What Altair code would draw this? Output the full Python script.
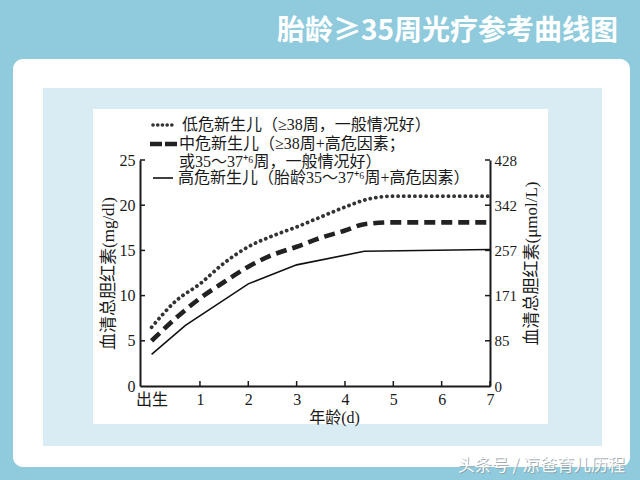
import json
import altair as alt
import pandas as pd

# ---------------- data ----------------
low_x = [0, 0.5, 1, 1.5, 2, 2.5, 3, 3.5, 4, 4.5, 5, 6, 7]
low_y = [6.5, 9.4, 11.3, 13.6, 15.4, 16.6, 17.6, 18.7, 19.8, 20.7, 21.0, 21.0, 21.0]
mid_x = [0, 0.5, 1, 1.5, 2, 2.5, 3, 3.5, 4, 4.4, 5, 6, 7]
mid_y = [5.0, 7.5, 9.7, 11.5, 13.2, 14.5, 15.4, 16.4, 17.2, 17.9, 18.1, 18.1, 18.1]
high_x = [0, 0.7, 2, 3, 4.4, 7]
high_y = [3.5, 6.7, 11.3, 13.4, 14.9, 15.1]

x_ticks = [0, 1, 2, 3, 4, 5, 6, 7]
x_tick_labels = ["出生", "1", "2", "3", "4", "5", "6", "7"]
y_ticks = [0, 5, 10, 15, 20, 25]
y_right_labels = ["0", "85", "171", "257", "342", "428"]

legend_labels = [
    "低危新生儿（≥38周，一般情况好）",
    "中危新生儿（≥38周+高危因素；",
    "或35～37⁺⁶周，一般情况好）",
    "高危新生儿（胎龄35～37⁺⁶周+高危因素）",
]
title_text = "胎龄≥35周光疗参考曲线图"
y_title_left = "血清总胆红素(mg/dl)"
y_title_right = "血清总胆红素(μmol/L)"
x_title = "年龄(d)"
watermark_text = "头条号 / 凉爸育儿历程"

# ---------------- layout ----------------
W, H = 350, 226
PL, PT = 140, 160
SERIF = "Liberation Serif, Noto Sans CJK SC"
CJK = "Noto Sans CJK SC"
BG = "#8fcbdc"
PANEL = "#d9ecf3"
INK = "#1a1a1a"

xs_ = alt.Scale(domain=[-0.24, 7], nice=False, zero=False)
ys_ = alt.Scale(domain=[0, 25], nice=False, zero=True)

x_axis = alt.Axis(
    values=x_ticks, ticks=False, tickSize=0, grid=False, zindex=1,
    labelExpr=f"{json.dumps(x_tick_labels, ensure_ascii=False)}[datum.value]",
    labelFont=SERIF, labelFontSize=16, labelColor=INK, labelPadding=5,
    labelFlush=False, labelOverlap=False,
    domainColor=INK, domainWidth=2,
    title=x_title, titleFont=SERIF, titleFontSize=16, titleFontWeight="normal",
    titleColor=INK, titlePadding=2, titleX=194,
)
y_axis_left = alt.Axis(
    values=y_ticks, ticks=False, tickSize=0, grid=False, zindex=1,
    labelFont=SERIF, labelFontSize=16, labelColor=INK, labelPadding=5,
    labelOverlap=False,
    domainColor=INK, domainWidth=2,
    title=y_title_left, titleFont=SERIF, titleFontSize=17, titleFontWeight="normal",
    titleColor=INK, titlePadding=2,
)
y_axis_right = alt.Axis(
    orient="right", values=y_ticks, ticks=False, tickSize=0, grid=False, zindex=1,
    labelExpr=f"{json.dumps(y_right_labels)}[datum.value / 5]",
    labelFont=SERIF, labelFontSize=15, labelColor=INK, labelPadding=4,
    labelOverlap=False,
    domainColor=INK, domainWidth=2,
    title=y_title_right, titleFont=SERIF, titleFontSize=17, titleFontWeight="normal",
    titleColor=INK, titleAngle=270, titleX=41, titleY=103,
    titleAlign="center", titleBaseline="middle",
)

one = pd.DataFrame({"d": [0]})


def box(x1, y1, x2, y2, color, radius=0):
    return alt.Chart(one).mark_rect(color=color, cornerRadius=radius).encode(
        x=alt.value(x1), x2=alt.value(x2), y=alt.value(y1), y2=alt.value(y2)
    )


card = box(13 - PL, 59 - PT, 630 - PL, 467 - PT, "white", 10)
panel = box(43 - PL, 88 - PT, 602 - PL, 446 - PT, PANEL)
inner_panel = box(93 - PL, 109 - PT, 548 - PL, 424 - PT, "white")

title = alt.Chart(pd.DataFrame({"t": [title_text]})).mark_text(
    align="right", baseline="middle", font=CJK, fontSize=28, fontWeight="bold", color="white"
).encode(x=alt.value(618 - PL), y=alt.value(32 - PT), text="t:N")

wm = pd.DataFrame({"t": [watermark_text]})
wm_shadow = alt.Chart(wm).mark_text(
    align="right", baseline="middle", font=CJK, fontSize=17, color="#8a9aa2", opacity=0.8
).encode(x=alt.value(626 - PL), y=alt.value(467 - PT), text="t:N")
wm_text = alt.Chart(wm).mark_text(
    align="right", baseline="middle", font=CJK, fontSize=17, color="white", opacity=0.95
).encode(x=alt.value(625 - PL), y=alt.value(466 - PT), text="t:N")


def series(xv, yv, **kw):
    df = pd.DataFrame({"x": xv, "y": yv})
    return alt.Chart(df).mark_line(**kw).encode(
        x=alt.X("x:Q", scale=xs_, axis=x_axis),
        y=alt.Y("y:Q", scale=ys_, axis=y_axis_left),
    )


low = series(low_x, low_y, color="#333333", strokeWidth=3.8, strokeDash=[0.1, 5.5],
             strokeCap="round", interpolate="monotone")
mid = series(mid_x, mid_y, color="#222222", strokeWidth=4.6, strokeDash=[11, 6],
             interpolate="monotone")
high = series(high_x, high_y, color="#111111", strokeWidth=1.6)

left_ticks = alt.Chart(pd.DataFrame({"y": y_ticks[1:]})).mark_rule(
    color=INK, strokeWidth=1.5
).encode(x=alt.value(0), x2=alt.value(5), y=alt.Y("y:Q", scale=ys_, axis=y_axis_left))

bottom_ticks = alt.Chart(pd.DataFrame({"x": x_ticks[1:]})).mark_rule(
    color=INK, strokeWidth=1.5
).encode(x=alt.X("x:Q", scale=xs_, axis=x_axis), y=alt.value(H - 5), y2=alt.value(H))

right_ticks = alt.Chart(pd.DataFrame({"y": y_ticks[1:]})).mark_rule(
    color=INK, strokeWidth=1.5
).encode(x=alt.value(W - 5), x2=alt.value(W), y=alt.Y("y:Q", scale=ys_, axis=y_axis_right))

# legend (drawn by hand, like the reference)
legend_y = [125 - PT, 144 - PT, 162 - PT, 178 - PT]
legend_tx = [42, 39, 39, 38]
legend_layers = []
for lab, ly, lx in zip(legend_labels, legend_y, legend_tx):
    legend_layers.append(
        alt.Chart(pd.DataFrame({"t": [lab]})).mark_text(
            align="left", baseline="middle", font=SERIF, fontSize=16, color=INK
        ).encode(x=alt.value(lx), y=alt.value(ly), text="t:N")
    )
sym_low = alt.Chart(one).mark_rule(color="#333333", strokeWidth=3.6, strokeDash=[0.1, 4.6],
                                   strokeCap="round").encode(
    x=alt.value(13), x2=alt.value(33), y=alt.value(legend_y[0]))
sym_mid = alt.Chart(one).mark_rule(color="#222222", strokeWidth=4.6, strokeDash=[12, 3]).encode(
    x=alt.value(10), x2=alt.value(38), y=alt.value(legend_y[1]))
sym_high = alt.Chart(one).mark_rule(color="#111111", strokeWidth=1.6).encode(
    x=alt.value(13), x2=alt.value(33), y=alt.value(legend_y[3]))

inner = alt.layer(
    card, panel, inner_panel, title, wm_shadow, wm_text,
    low, mid, high, left_ticks, bottom_ticks,
    sym_low, sym_mid, sym_high, *legend_layers,
)

chart = (
    alt.layer(inner, right_ticks)
    .resolve_scale(y="independent")
    .properties(
        width=W, height=H,
        padding={"left": PL, "top": PT, "right": 640 - PL - W, "bottom": 480 - PT - H},
        autosize=alt.AutoSizeParams(type="none"),
    )
    .configure(background=BG)
    .configure_view(stroke=None)
)

chart.save("out.html", embed_options={"renderer": "svg", "actions": False})
